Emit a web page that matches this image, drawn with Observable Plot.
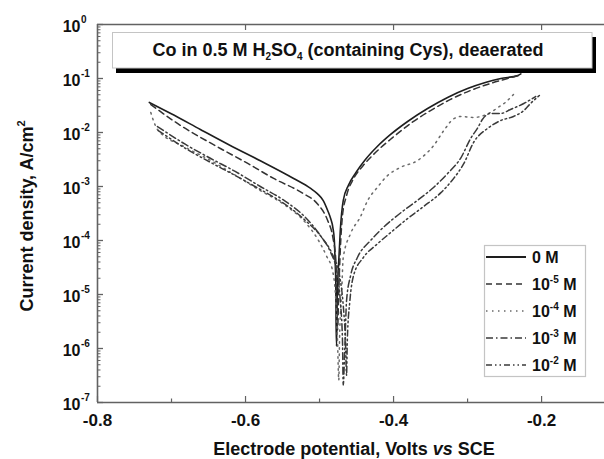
<!DOCTYPE html>
<html>
<head>
<meta charset="utf-8">
<script src="https://cdn.jsdelivr.net/npm/d3@7"></script>
<script src="https://cdn.jsdelivr.net/npm/@observablehq/plot@0.6"></script>
<style>
  html, body { margin: 0; padding: 0; background: #fff; }
  #chart svg { display: block; }
</style>
</head>
<body>
<div id="chart"></div>
<script>
// Polarization curves of Co in 0.5 M H2SO4 with cysteine.
// Each point: [potential (V vs SCE), current density (A/cm²)]
const cys0M = [
  [-0.730, 0.036], [-0.701, 0.0225], [-0.661, 0.0114], [-0.620, 0.0057], [-0.580, 0.0030],
  [-0.535, 0.00141], [-0.512, 0.00092], [-0.503, 0.00074], [-0.495, 0.00055], [-0.489, 0.00036],
  [-0.485, 0.000255], [-0.482, 0.000174], [-0.480, 1.0e-4], [-0.479, 4.3e-5], [-0.478, 1.5e-5],
  [-0.4777, 3.3e-6], [-0.477, 1.1e-6], [-0.4762, 7.8e-6], [-0.474, 4.3e-5], [-0.472, 1.5e-4],
  [-0.468, 5.5e-4], [-0.461, 1.05e-3], [-0.451, 1.8e-3], [-0.438, 3.16e-3], [-0.422, 5.5e-3],
  [-0.404, 9.2e-3], [-0.381, 0.016], [-0.354, 0.0278], [-0.327, 0.0445], [-0.300, 0.065],
  [-0.276, 0.084], [-0.255, 0.100], [-0.232, 0.114], [-0.228, 0.122]
];
const cys1e5M = [
  [-0.728, 0.033], [-0.692, 0.0147], [-0.634, 0.00506], [-0.597, 0.00267], [-0.562, 0.00141],
  [-0.522, 0.00074], [-0.503, 0.00048], [-0.489, 0.000234], [-0.482, 0.000114], [-0.478, 4.3e-5],
  [-0.477, 1.19e-5], [-0.4757, 2.2e-6], [-0.474, 1.2e-5], [-0.472, 6.5e-5], [-0.469, 2.9e-4],
  [-0.4635, 6.8e-4], [-0.454, 1.4e-3], [-0.441, 2.45e-3], [-0.423, 4.45e-3], [-0.401, 8.1e-3],
  [-0.377, 0.0147], [-0.350, 0.0255], [-0.323, 0.041], [-0.296, 0.060], [-0.269, 0.081],
  [-0.246, 0.100], [-0.230, 0.114]
];
const cys1e4M = [
  [-0.728, 0.0235], [-0.724, 0.016], [-0.719, 0.0114], [-0.681, 0.0053], [-0.647, 0.00303],
  [-0.620, 0.00182], [-0.580, 0.00084], [-0.546, 0.000445], [-0.519, 0.000215], [-0.503, 0.000109],
  [-0.491, 5.3e-5], [-0.482, 2.6e-5], [-0.478, 7.7e-6], [-0.4757, 1.4e-6], [-0.474, 2.6e-7],
  [-0.473, 1.4e-6], [-0.470, 1.2e-5], [-0.468, 4.8e-5], [-0.458, 1.35e-4], [-0.445, 2.7e-4],
  [-0.435, 5.5e-4], [-0.422, 9.6e-4], [-0.408, 1.6e-3], [-0.391, 2.25e-3], [-0.368, 3.0e-3],
  [-0.346, 5.7e-3], [-0.332, 0.0109], [-0.320, 0.0174], [-0.309, 0.0198], [-0.292, 0.019],
  [-0.278, 0.0207], [-0.269, 0.0235], [-0.259, 0.029], [-0.249, 0.036], [-0.238, 0.0506]
];
const cys1e3M = [
  [-0.719, 0.0129], [-0.681, 0.0060], [-0.647, 0.0033], [-0.614, 0.0019], [-0.580, 0.0010],
  [-0.546, 0.00053], [-0.519, 0.000267], [-0.499, 0.000124], [-0.485, 6.0e-5], [-0.477, 2.8e-5],
  [-0.472, 7.7e-6], [-0.469, 1.4e-6], [-0.468, 2.1e-7], [-0.466, 9e-7], [-0.4635, 7.7e-6],
  [-0.458, 2.25e-5], [-0.449, 4.8e-5], [-0.431, 1.0e-4], [-0.414, 1.74e-4], [-0.391, 3.2e-4],
  [-0.368, 5.5e-4], [-0.346, 9.6e-4], [-0.327, 1.74e-3], [-0.309, 3.4e-3], [-0.296, 7.7e-3],
  [-0.286, 0.0124], [-0.280, 0.0174], [-0.269, 0.0225], [-0.255, 0.0225], [-0.242, 0.0267],
  [-0.224, 0.0344], [-0.208, 0.0464]
];
const cys1e2M = [
  [-0.718, 0.0109], [-0.681, 0.00506], [-0.647, 0.00278], [-0.614, 0.0016], [-0.580, 0.00088],
  [-0.546, 0.000464], [-0.519, 0.000234], [-0.496, 0.000109], [-0.482, 5.3e-5], [-0.473, 2.25e-5],
  [-0.468, 6.3e-6], [-0.465, 1.4e-6], [-0.4635, 3.2e-7], [-0.4625, 1.4e-6], [-0.459, 7.7e-6],
  [-0.454, 2.25e-5], [-0.441, 4.8e-5], [-0.423, 8.4e-5], [-0.404, 1.4e-4], [-0.381, 2.55e-4],
  [-0.359, 4.3e-4], [-0.336, 7.7e-4], [-0.319, 1.4e-3], [-0.305, 2.67e-3], [-0.292, 6.5e-3],
  [-0.273, 0.0119], [-0.255, 0.0167], [-0.238, 0.0198], [-0.224, 0.0255], [-0.215, 0.0344],
  [-0.203, 0.0484]
];

// Legend concentrations as powers of ten (null = blank solution)
const concExponents = [null, -5, -4, -3, -2];
const curves = [cys0M, cys1e5M, cys1e4M, cys1e3M, cys1e2M];

// Axis ticks
const xMajor = [-0.8, -0.6, -0.4, -0.2];
const xMinor = [-0.7, -0.5, -0.3];
const xTopMajor = [-0.6, -0.4, -0.2];
const yDecades = [0, -1, -2, -3, -4, -5, -6, -7];

// Line styles per concentration
const styles = [
  {stroke: "#1e1e1e", strokeWidth: 1.6, dash: null},
  {stroke: "#333", strokeWidth: 1.5, dash: "6,4"},
  {stroke: "#6a6a6a", strokeWidth: 1.5, dash: "1.5,4.5"},
  {stroke: "#3a3a3a", strokeWidth: 1.5, dash: "7,3,1.5,3"},
  {stroke: "#3a3a3a", strokeWidth: 1.5, dash: "6,3,1.5,3,1.5,3"}
];

const FONT = "'Liberation Sans', Arial, Helvetica, sans-serif";
const AX = "#626262";
const W = 604, H = 459, ML = 97, MR = 0, MT = 24, MB = 57;
const frameW = W - ML - MR, frameH = H - MT - MB;

const yMinor = yDecades.slice(1).flatMap(e => d3.range(2, 10).map(m => m * 10 ** e));

// inward tick marks: a tick spans the frame minus an inset leaving only `len` pixels
const tickLeft = (vals, len, sw) => Plot.tickY(vals, {y: d => d, insetRight: frameW - len, stroke: AX, strokeWidth: sw});
const tickBottom = (vals, len) => Plot.tickX(vals, {x: d => d, insetTop: frameH - len, stroke: AX, strokeWidth: 1.2});
const tickTop = (vals, len) => Plot.tickX(vals, {x: d => d, insetBottom: frameH - len, stroke: AX, strokeWidth: 1.2});

const chart = Plot.plot({
  width: W,
  height: H,
  marginLeft: ML,
  marginRight: MR,
  marginTop: MT,
  marginBottom: MB,
  style: {fontFamily: FONT, background: "#fff", color: "#111"},
  x: {domain: [-0.8, -0.115], axis: null},
  y: {type: "log", domain: [1e-7, 1], axis: null},
  marks: [
    // curves
    ...curves.map((c, k) => Plot.line(c, {
      x: d => d[0], y: d => d[1],
      stroke: styles[k].stroke,
      strokeWidth: styles[k].strokeWidth,
      strokeDasharray: styles[k].dash,
      curve: "monotone-x"
    })),
    // inward ticks
    tickLeft(yDecades.map(e => 10 ** e), 6, 1.3),
    tickLeft(yMinor, 3.5, 1),
    tickBottom(xMajor, 6),
    tickBottom(xMinor, 3.5),
    tickTop(xTopMajor, 6),
    // frame lines (left, bottom, top)
    Plot.ruleX([-0.8], {stroke: AX, strokeWidth: 1.6}),
    Plot.ruleY([1e-7, 1], {stroke: AX, strokeWidth: 1.6}),
    // tick labels
    Plot.text(xMajor, {x: d => d, text: d => d.toFixed(1), frameAnchor: "bottom", lineAnchor: "top", dy: 11,
      fontSize: 17, fontWeight: "bold", fill: "#111"}),
    Plot.text(yDecades, {y: e => 10 ** e, text: () => "10", frameAnchor: "left", textAnchor: "end", dx: -17,
      lineAnchor: "middle", dy: 2, fontSize: 16, fontWeight: "bold", fill: "#111"}),
    Plot.text(yDecades, {y: e => 10 ** e, text: e => String(e), frameAnchor: "left", textAnchor: "start", dx: -16.5,
      lineAnchor: "middle", dy: -5, fontSize: 10, fontWeight: "bold", fill: "#111"})
  ]
});

document.getElementById("chart").appendChild(chart);

const svg = d3.select(chart);
const deco = svg.append("g").attr("font-family", FONT).attr("font-weight", "bold")
  .attr("fill", "#111").attr("text-anchor", "start");

// Title box with drop shadow
deco.append("rect").attr("x", 116).attr("y", 68).attr("width", 480).attr("height", 5).attr("fill", "#000");
deco.append("rect").attr("x", 592).attr("y", 37).attr("width", 4).attr("height", 36).attr("fill", "#000");
deco.append("rect").attr("x", 112.5).attr("y", 32.5).attr("width", 479.5).attr("height", 35.5)
  .attr("fill", "#fff").attr("stroke", "#c4c4c4").attr("stroke-width", 1);
const title = deco.append("text").attr("x", 348).attr("y", 56).attr("text-anchor", "middle").attr("font-size", 18);
title.append("tspan").text("Co in 0.5 M H");
title.append("tspan").attr("font-size", 10).attr("dy", 4).text("2");
title.append("tspan").attr("dy", -4).text("SO");
title.append("tspan").attr("font-size", 10).attr("dy", 4).text("4");
title.append("tspan").attr("dy", -4).text(" (containing Cys), deaerated");

// Legend
const lg = deco.append("g");
lg.append("rect").attr("x", 484.5).attr("y", 245.5).attr("width", 101).attr("height", 131)
  .attr("fill", "#fff").attr("stroke", "#c4c4c4").attr("stroke-width", 1.2);
concExponents.forEach((e, k) => {
  const yy = 257 + 27 * k;
  const s = styles[k];
  lg.append("line").attr("x1", 486).attr("x2", 526).attr("y1", yy).attr("y2", yy)
    .attr("stroke", s.stroke).attr("stroke-width", s.strokeWidth + 0.2)
    .attr("stroke-dasharray", s.dash);
  const t = lg.append("text").attr("x", 532).attr("y", yy + 6).attr("font-size", 16).attr("text-anchor", "start");
  if (e === null) {
    t.text("0 M");
  } else {
    t.append("tspan").text("10");
    t.append("tspan").attr("font-size", 10).attr("dy", -7).text(String(e));
    t.append("tspan").attr("dy", 7).text(" M");
  }
});

// Axis titles
const xl = deco.append("text").attr("x", 354).attr("y", 455).attr("text-anchor", "middle").attr("font-size", 18);
xl.append("tspan").text("Electrode potential, Volts ");
xl.append("tspan").attr("font-style", "italic").text("vs");
xl.append("tspan").text(" SCE");

const yl = deco.append("text").attr("transform", "translate(33,216) rotate(-90)")
  .attr("text-anchor", "middle").attr("font-size", 18);
yl.append("tspan").text("Current density, A/cm");
yl.append("tspan").attr("font-size", 11).attr("dy", -8).text("2");
</script>
</body>
</html>
